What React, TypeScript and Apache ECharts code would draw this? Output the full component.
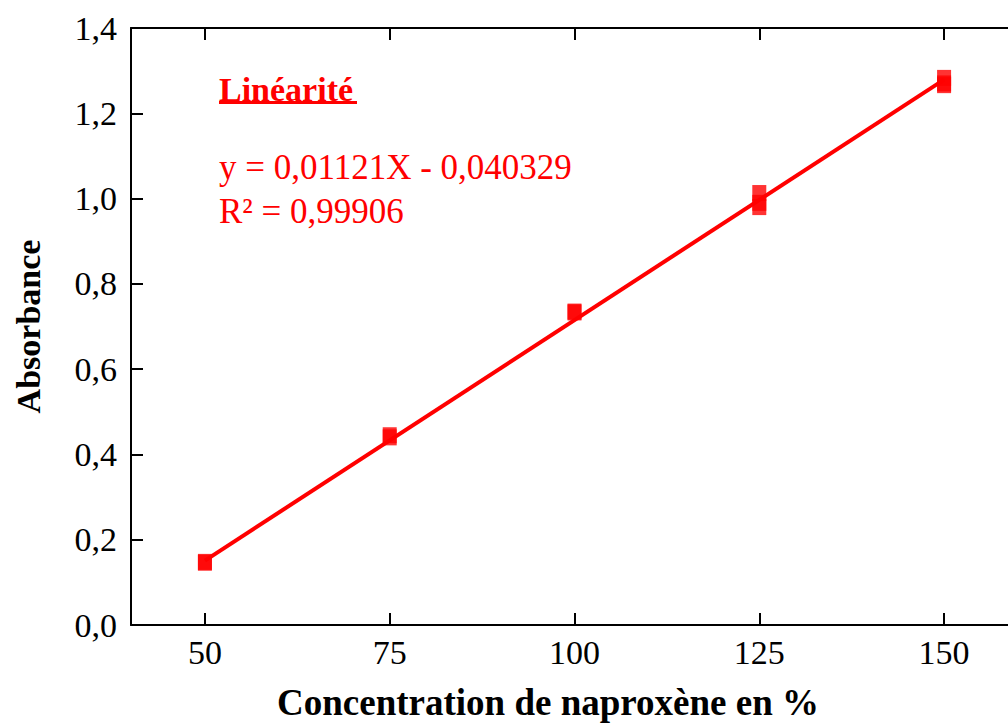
import React, { useEffect, useRef } from "react";
import * as echarts from "echarts";

const concentrations = [50, 50, 75, 75, 100, 100, 125, 125, 125, 150, 150, 150];
const absorbances = [0.148, 0.146, 0.445, 0.44, 0.735, 0.733, 1.013, 0.99, 0.98, 1.283, 1.27, 1.266];
const fitLineX = [50, 150];
const fitLineY = [0.151, 1.279];
const xTickValues = [50, 75, 100, 125, 150];
const titleText = "Linéarité";
const equationText = "y = 0,01121X - 0,040329";
const r2Text = "R² = 0,99906";
const xAxisName = "Concentration de naproxène en %";
const yAxisName = "Absorbance";

const FONT = "'Liberation Serif', 'Times New Roman', serif";
const RED = "#ff0000";

export default function App() {
  const ref = useRef<HTMLDivElement>(null);
  useEffect(() => {
    if (!ref.current) return;
    const chart = echarts.init(ref.current, null, { renderer: "svg" });
    const points = concentrations.map((c, i) => [c, absorbances[i]]);
    const line = fitLineX.map((x, i) => [x, fitLineY[i]]);
    const axisLine = { show: true, lineStyle: { color: "#000", width: 2 } };
    const tickStyle = { color: "#000", width: 2 };
    chart.setOption({
      animation: false,
      backgroundColor: "#fff",
      grid: {
        left: 131,
        top: 28,
        width: 887,
        height: 597,
        containLabel: false,
        outerBoundsMode: "none",
      },
      xAxis: [
        {
          type: "value",
          min: 40,
          max: 160,
          position: "bottom",
          axisLine,
          axisTick: { show: true, inside: true, length: 12, lineStyle: tickStyle, customValues: xTickValues },
          axisLabel: {
            margin: 10,
            fontFamily: FONT,
            fontSize: 34,
            color: "#000",
            customValues: xTickValues,
          },
          splitLine: { show: false },
          name: xAxisName,
          nameLocation: "middle",
          nameGap: 58,
          nameTextStyle: {
            fontFamily: FONT,
            fontSize: 37,
            fontWeight: "bold",
            color: "#000",
            lineHeight: 38,
            padding: [0, 53, 0, 0],
          },
        },
        {
          type: "value",
          min: 40,
          max: 160,
          position: "top",
          axisLine,
          axisTick: { show: true, inside: true, length: 12, lineStyle: tickStyle, customValues: xTickValues },
          axisLabel: { show: false },
          splitLine: { show: false },
        },
      ],
      yAxis: [
        {
          type: "value",
          min: 0,
          max: 1.4,
          interval: 0.2,
          axisLine,
          axisTick: { show: true, inside: true, length: 12, lineStyle: tickStyle },
          axisLabel: {
            margin: 14,
            fontFamily: FONT,
            fontSize: 34,
            color: "#000",
            formatter: (v: number) => v.toFixed(1).replace(".", ","),
          },
          splitLine: { show: false },
          name: yAxisName,
          nameLocation: "middle",
          nameGap: 86,
          nameTextStyle: { fontFamily: FONT, fontSize: 34, fontWeight: "bold", color: "#000" },
        },
      ],
      series: [
        {
          type: "line",
          data: line,
          showSymbol: false,
          symbol: "none",
          lineStyle: { color: RED, width: 4 },
          z: 2,
        },
        {
          type: "scatter",
          data: points,
          symbol: "rect",
          symbolSize: [14, 16],
          itemStyle: { color: RED },
          z: 3,
        },
      ],
      graphic: [
        {
          type: "text",
          left: 219,
          top: 72,
          style: { text: titleText, fill: RED, font: `bold 34px ${FONT}` },
        },
        {
          type: "rect",
          shape: { x: 219, y: 101, width: 138, height: 3 },
          style: { fill: RED },
        },
        {
          type: "text",
          left: 219,
          top: 150,
          style: { text: equationText, fill: RED, font: `35px ${FONT}` },
        },
        {
          type: "text",
          left: 219,
          top: 194,
          style: { text: r2Text, fill: RED, font: `35px ${FONT}` },
        },
      ],
    });
    return () => chart.dispose();
  }, []);
  return (
    <div
      ref={ref}
      style={{ position: "absolute", left: 0, top: 0, width: 1008, height: 724, overflow: "hidden" }}
    />
  );
}
